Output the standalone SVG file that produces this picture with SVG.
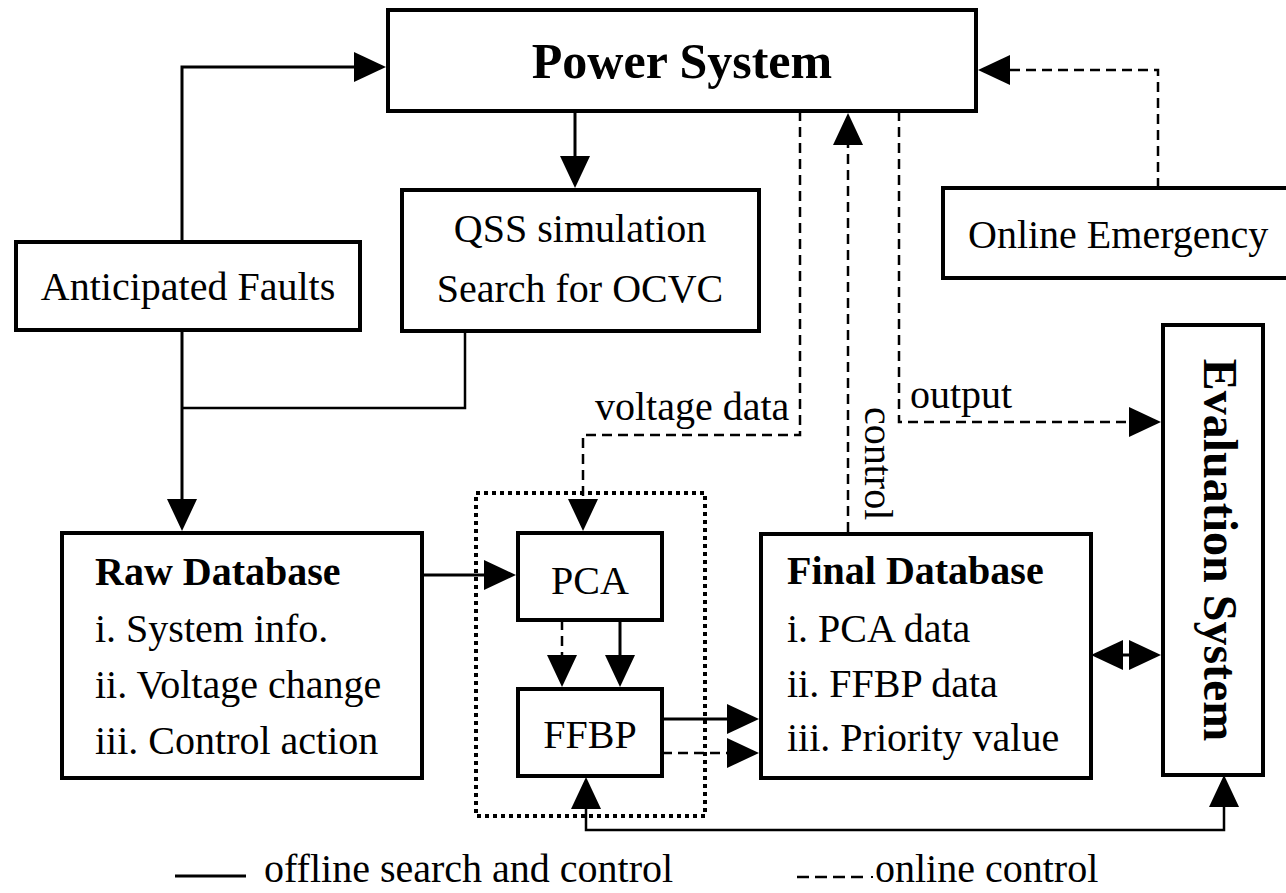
<svg xmlns="http://www.w3.org/2000/svg" width="1286" height="893" viewBox="0 0 1286 893">
<style>
  .box { fill: #fff; stroke: #000; stroke-width: 4; }
  .dot { fill: none; stroke: #000; stroke-width: 4; stroke-dasharray: 4 4; }
  .t { font-family: "Liberation Serif", "Times New Roman", serif; font-size: 40px; fill: #000; }
  .b { font-weight: bold; }
  .c { text-anchor: middle; }
  .sol { fill: none; stroke: #000; stroke-width: 3; }
  .thin { fill: none; stroke: #000; stroke-width: 2.5; }
  .dash { fill: none; stroke: #000; stroke-width: 2.5; stroke-dasharray: 10 6; }
</style>
<defs>
  <marker id="ah" markerUnits="userSpaceOnUse" markerWidth="32" markerHeight="32" viewBox="0 -16 32 32" refX="0" refY="0" orient="auto-start-reverse">
    <path d="M0,-15 L32,0 L0,15 z" fill="#000"/>
  </marker>
</defs>
<rect width="1286" height="893" fill="#fff"/>

<g id="power-system">
  <rect class="box" x="388" y="10" width="588" height="101"/>
  <text class="t b c" x="682" y="78" style="font-size:50px">Power System</text>
</g>
<g id="qss">
  <rect class="box" x="402" y="190" width="357" height="141"/>
  <text class="t c" x="580" y="242">QSS simulation</text>
  <text class="t c" x="580" y="302">Search for OCVC</text>
</g>
<g id="anticipated-faults">
  <rect class="box" x="16" y="242" width="344" height="88"/>
  <text class="t c" x="188" y="300">Anticipated Faults</text>
</g>
<g id="online-emergency">
  <rect class="box" x="943" y="188" width="360" height="90"/>
  <text class="t" x="968" y="248">Online Emergency</text>
</g>
<g id="raw-database">
  <rect class="box" x="62" y="533" width="360" height="245"/>
  <text class="t b" x="95" y="585">Raw Database</text>
  <text class="t" x="95" y="642">i. System info.</text>
  <text class="t" x="95" y="698">ii. Voltage change</text>
  <text class="t" x="95" y="754">iii. Control action</text>
</g>
<g id="nn-group">
  <rect class="dot" x="476" y="493" width="229" height="323"/>
</g>
<g id="pca">
  <rect class="box" x="518" y="533" width="144" height="87"/>
  <text class="t c" x="590" y="594">PCA</text>
</g>
<g id="ffbp">
  <rect class="box" x="518" y="689" width="144" height="87"/>
  <text class="t c" x="590" y="748">FFBP</text>
</g>
<g id="final-database">
  <rect class="box" x="761" y="534" width="330" height="244"/>
  <text class="t b" x="787" y="584">Final Database</text>
  <text class="t" x="787" y="642">i. PCA data</text>
  <text class="t" x="787" y="697">ii. FFBP data</text>
  <text class="t" x="787" y="751">iii. Priority value</text>
</g>
<g id="evaluation-system">
  <rect class="box" x="1163" y="325" width="100" height="450"/>
  <text class="t b c" transform="translate(1204,550) rotate(90)" style="font-size:48px">Evaluation System</text>
</g>

<g id="connectors">
  <path class="sol" d="M182,242 V67 H354" marker-end="url(#ah)"/>
  <path class="sol" d="M575,111 V156" marker-end="url(#ah)"/>
  <path class="sol" d="M182,330 V499" marker-end="url(#ah)"/>
  <path class="thin" d="M465,331 V408 H182"/>
  <path class="sol" d="M422,575 H484" marker-end="url(#ah)"/>
  <path class="sol" d="M620,620 V655" marker-end="url(#ah)"/>
  <path class="dash" d="M562,620 V655" marker-end="url(#ah)"/>
  <path class="sol" d="M662,719 H727" marker-end="url(#ah)"/>
  <path class="dash" d="M662,753 H727" marker-end="url(#ah)"/>
  <path class="thin" d="M586,809 V830 H1224 V807" marker-start="url(#ah)" marker-end="url(#ah)"/>
  <path class="sol" d="M1123,655 H1129" marker-start="url(#ah)" marker-end="url(#ah)"/>
  <path class="dash" d="M899,111 V422 H1129" marker-end="url(#ah)"/>
  <path class="dash" d="M848,532 V145" marker-end="url(#ah)"/>
  <path class="dash" d="M800,111 V435 H583 V499" marker-end="url(#ah)"/>
  <path class="dash" d="M1158,188 V70 H1010" marker-end="url(#ah)"/>
  <text class="t" x="595" y="420">voltage data</text>
  <text class="t" transform="translate(865,407) rotate(90)">control</text>
  <text class="t" x="910" y="408">output</text>
</g>

<g id="legend">
  <path class="sol" d="M175,876 H246"/>
  <text class="t" x="264" y="882">offline search and control</text>
  <path fill="none" stroke="#000" stroke-width="2.5" stroke-dasharray="12 6" d="M797,877 H867"/>
  <rect x="871" y="876" width="2" height="2" fill="#000"/>
  <text class="t" x="875" y="882">online control</text>
</g>
</svg>
